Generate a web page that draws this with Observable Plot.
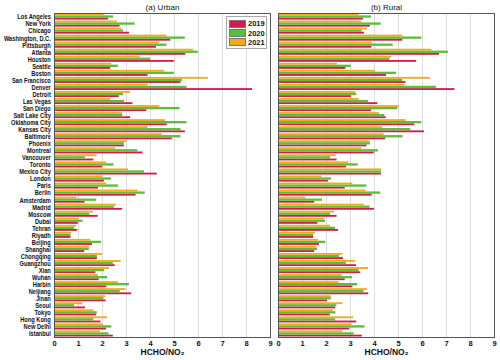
<!DOCTYPE html>
<html><head><meta charset="utf-8">
<script src="https://cdn.jsdelivr.net/npm/d3@7"></script>
<script src="https://cdn.jsdelivr.net/npm/@observablehq/plot@0.6"></script>
<style>
body{margin:0;background:#fff}
#wrap{position:relative;width:500px;height:360px;font-family:"Liberation Sans",Arial,sans-serif}
#legend{position:absolute;left:226px;top:16px;width:41px;border:1px solid #a8a8a8;background:#fff;padding:2px 0 1px 2px;box-sizing:border-box}
#legend .row{display:flex;align-items:center;height:9.4px}
#legend .sw{width:15px;height:6px;border:0.5px solid #777;margin-right:2px}
#legend .lb{font-size:7.5px;font-weight:bold;color:#111}
</style></head><body><div id="wrap"></div>
<script>
const cities = ["Los Angeles","New York","Chicago","Washington, D.C.","Pittsburgh","Atlanta","Houston","Seattle","Boston","San Francisco","Denver","Detroit","Las Vegas","San Diego","Salt Lake City","Oklahoma City","Kansas City","Baltimore","Phoenix","Montreal","Vancouver","Toronto","Mexico City","London","Paris","Berlin","Amsterdam","Madrid","Moscow","Dubai","Tehran","Riyadh","Beijing","Shanghai","Chongqing","Guangzhou","Xian","Wuhan","Harbin","Neijiang","Jinan","Seoul","Tokyo","Hong Kong","New Delhi","Istanbul"];
const years = ["2019","2020","2021"];
const colors = ["#d8174b","#5cbf3c","#f1aa1a"];
const panels = ["(a) Urban","(b) Rural"];
const xTicks = [0,1,2,3,4,5,6,7,8,9];

const urban2019 = [2.25,2.73,3.13,4.85,4.25,5.47,4.99,2.34,3.90,5.27,8.25,2.70,3.27,3.85,3.17,4.70,5.45,4.91,2.91,3.69,1.64,2.01,4.28,2.08,1.83,3.40,1.27,2.84,1.82,0.99,0.97,0.69,1.58,1.26,1.79,2.53,1.72,1.86,2.18,3.22,2.15,1.29,1.76,1.94,2.17,2.45];
const urban2020 = [2.46,3.36,2.88,5.45,4.69,5.99,4.00,2.66,4.99,5.33,5.52,2.88,2.92,5.23,2.85,5.52,5.27,5.27,2.91,3.47,1.29,2.48,3.75,2.38,2.67,3.78,1.76,2.50,1.47,1.19,0.84,0.69,1.96,1.45,1.79,2.45,2.08,2.21,3.12,2.74,2.06,0.84,1.78,1.64,2.39,2.27];
const urban2021 = [2.10,2.62,2.80,4.69,4.36,5.80,3.57,2.38,4.59,6.41,3.90,3.17,2.34,4.39,2.83,4.62,3.90,4.49,3.02,2.55,1.78,2.17,3.09,2.01,2.18,3.48,0.94,2.59,1.62,1.03,0.92,0.71,1.51,1.47,2.00,2.78,2.29,1.83,2.66,2.98,2.13,1.19,1.64,2.21,2.03,1.92];
const rural2019 = [3.54,3.83,3.58,5.18,3.89,6.71,5.76,2.81,4.50,5.31,7.35,3.04,4.14,3.88,4.49,5.68,6.08,4.47,3.69,3.99,2.44,2.83,4.29,2.08,2.78,3.90,1.51,4.00,2.44,1.64,2.50,1.47,1.71,1.51,2.71,3.25,3.43,2.78,3.10,3.76,2.04,2.38,2.16,3.26,2.97,3.49];
const rural2020 = [3.88,4.28,3.49,5.97,4.78,7.08,4.64,3.03,4.92,5.18,6.58,3.26,3.76,4.97,4.43,5.97,5.51,5.19,3.83,4.17,2.17,3.32,4.29,2.21,3.68,4.26,1.83,3.82,2.17,1.96,2.38,1.47,1.97,1.63,2.54,2.83,3.36,3.08,3.30,3.56,2.20,2.43,2.39,2.38,3.60,3.15];
const rural2021 = [3.36,3.46,3.71,5.18,3.92,6.39,4.72,2.46,4.04,6.33,5.26,3.22,3.36,5.03,4.21,5.32,4.33,4.40,3.82,3.47,2.40,2.93,4.31,1.81,3.10,3.65,1.14,3.57,2.33,1.92,2.17,1.54,1.67,1.60,2.67,3.21,3.75,2.65,2.52,3.70,2.20,2.69,2.28,3.13,3.06,2.68];

const series = {
  "(a) Urban": {"2019": urban2019, "2020": urban2020, "2021": urban2021},
  "(b) Rural": {"2019": rural2019, "2020": rural2020, "2021": rural2021}
};
const rows = [];
panels.forEach(p => cities.forEach((c, i) => years.forEach(yr => rows.push({panel: p, city: c, year: yr, key: c + "|" + yr, value: series[p][yr][i]}))));
const yOrder = ["2021","2020","2019"];
const yDomain = cities.flatMap(c => yOrder.map(yr => c + "|" + yr));

const font = '"Liberation Sans",Arial,sans-serif';
const mLeft = 54, tickPad = 3;

const chart = Plot.plot({
  width: 500, height: 360,
  marginTop: 13, marginBottom: 23, marginLeft: mLeft, marginRight: 6,
  style: {fontFamily: font, fontSize: "7px", color: "#111", background: "#fff"},
  fx: {domain: panels, paddingInner: 0.036, paddingOuter: 0, label: null, axis: null},
  x: {domain: [0, 9], label: null, axis: null},
  y: {domain: yDomain, paddingInner: 0, paddingOuter: 0, label: null, axis: null},
  color: {domain: years, range: colors},
  marks: [
    Plot.gridX({ticks: xTicks, stroke: "#dcdcdc", strokeOpacity: 1}),
    ...years.map(yr => Plot.barX(rows.filter(d => d.year === yr), {
      x: "value", y: "key", fx: "panel", fill: "year",
      insetTop: yr === "2021" ? 0.5 : 0, insetBottom: yr === "2019" ? 0.5 : 0
    })),
    Plot.frame({stroke: "#555"}),
    Plot.axisFx({anchor: "top", tickSize: 0, tickPadding: 4, label: null, fontSize: 8}),
    Plot.axisY({ticks: cities.map(c => c + "|2020"), tickFormat: d => d.split("|")[0], tickSize: 0, tickPadding: tickPad, fontWeight: "bold", fontSize: 7.4}),
    Plot.axisX({ticks: xTicks, tickSize: 0, tickPadding: 3, fontWeight: "bold", fontSize: 7.5, label: null}),
    Plot.text(panels, {fx: d => d, text: () => "HCHO/NO₂", frameAnchor: "bottom", dy: 17, fontWeight: "bold", fontSize: 8.5})
  ]
});
// condense the city labels horizontally (narrow typeface look)
const citySet = new Set(cities);
const groups = new Set();
chart.querySelectorAll("text").forEach(t => { if (citySet.has(t.textContent)) groups.add(t.parentNode); });
const ax = mLeft - tickPad;
groups.forEach(g => {
  const old = g.getAttribute("transform") || "";
  g.setAttribute("transform", `translate(${ax},0) scale(0.77,1) translate(${-ax},0) ${old}`);
});
const wrap = document.getElementById("wrap");
wrap.appendChild(chart);

const legend = document.createElement("div");
legend.id = "legend";
const cs = chart.scale("color");
years.forEach(yr => {
  const r = document.createElement("div"); r.className = "row";
  const s = document.createElement("div"); s.className = "sw"; s.style.background = cs.apply(yr);
  const l = document.createElement("div"); l.className = "lb"; l.textContent = yr;
  r.appendChild(s); r.appendChild(l); legend.appendChild(r);
});
wrap.appendChild(legend);
</script>
</body></html>
